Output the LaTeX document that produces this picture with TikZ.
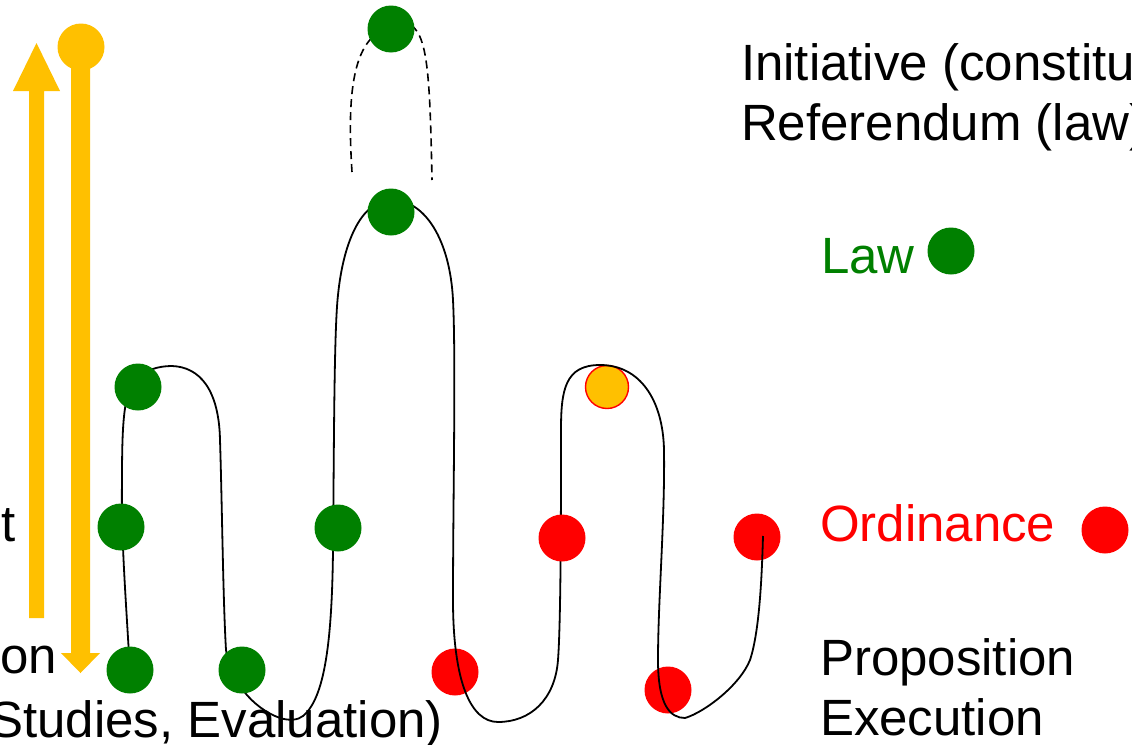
\documentclass[tikz,border=0pt]{standalone}
\usepackage{fontspec}
\setmainfont{Liberation Sans}
\definecolor{lawgreen}{HTML}{008000}
\definecolor{ordred}{HTML}{FF0000}
\definecolor{amber}{HTML}{FFC000}
\begin{document}
\begin{tikzpicture}[x=1pt,y=-1pt,
  dotg/.style={circle,fill=lawgreen,minimum size=47pt,inner sep=0pt},
  dotr/.style={circle,fill=ordred,minimum size=47pt,inner sep=0pt},
  dotam/.style={circle,fill=amber,draw=ordred,line width=1.4pt,minimum size=43pt,inner sep=0pt},
  dotcap/.style={circle,fill=amber,minimum size=47pt,inner sep=0pt},
  lbl/.style={inner sep=0pt,outer sep=0pt,font=\fontsize{51}{61}\selectfont},
  wave/.style={line width=1.8pt,black},
  dashwave/.style={line width=1.6pt,black,dash pattern=on 8pt off 5pt}]
\useasboundingbox (0,0) rectangle (1132,744);
\clip (0,0) rectangle (1132,744);
\fill[white] (0,0) rectangle (1132,744);

% orange arrows
\fill[amber] (29,618) -- (29,91) -- (13,91) -- (36.5,43) -- (60,91) -- (44,91) -- (44,618) -- cycle;
\fill[amber] (71,60) -- (71,653) -- (61,653) -- (80.5,673) -- (100,653) -- (90,653) -- (90,60) -- cycle;
\node[dotcap] (cap) at (81,47) {};

% dots lying under the line
\node[dotr] (r3) at (455,672) {};
\node[dotr] (r4) at (668,690) {};
\node[dotr] (r2) at (757,537) {};
\node[dotam] (am) at (607,387) {};

% the process line
\draw[wave] (130,672) .. controls (126,600) and (121,540) .. (122,480)
  .. controls (122,420) and (124,395) .. (135,380)
  .. controls (145,370) and (158,366) .. (172,366)
  .. controls (200,367) and (219,390) .. (220,440)
  .. controls (222,500) and (223,600) .. (226,650)
  .. controls (230,680) and (252,708) .. (280,718)
  .. controls (290,721) and (298,720) .. (303,716)
  .. controls (325,698) and (332,640) .. (333,550)
  .. controls (334,450) and (334,330) .. (338,295)
  .. controls (343,245) and (360,200) .. (392,200)
  .. controls (425,200) and (450,240) .. (453,300)
  .. controls (456,360) and (453,500) .. (453,600)
  .. controls (453,680) and (470,722) .. (498,722)
  .. controls (530,722) and (555,700) .. (558,660)
  .. controls (561,620) and (561,500) .. (561,430)
  .. controls (561,390) and (565,365) .. (600,365)
  .. controls (640,365) and (663,400) .. (664,450)
  .. controls (665,520) and (658,600) .. (658,660)
  .. controls (658,705) and (670,718) .. (685,718)
  .. controls (705,712) and (740,685) .. (750,660)
  .. controls (760,630) and (762,570) .. (763,536);

% dashed arc
\draw[dashwave] (352,172) .. controls (348,110) and (350,55) .. (375,35)
  .. controls (385,28) and (400,20) .. (412,26)
  .. controls (428,38) and (430,80) .. (432,180);

% dots lying over the line
\node[dotg] (g0) at (391,29) {};
\node[dotg] (g1) at (391,212) {};
\node[dotg] (g2) at (138,387) {};
\node[dotg] (g3) at (121,527) {};
\node[dotg] (g4) at (338,528) {};
\node[dotg] (g5) at (130,670) {};
\node[dotg] (g6) at (242,670) {};
\node[dotr] (r1) at (562,538) {};

% legend
\node[lbl,anchor=base west] (init) at (741,80) {Initiative (constitution)};
\node[lbl,anchor=base west] (refe) at (741,140) {Referendum (law)};
\node[lbl,anchor=base west,text=lawgreen] (law) at (821,273) {Law};
\node[dotg] (lawdot) at (951,251) {};
\node[lbl,anchor=base west,text=ordred] (ord) at (820,541) {Ordinance};
\node[dotr] (orddot) at (1105,530) {};
\node[lbl,anchor=base west] (prop) at (820,675) {Proposition};
\node[lbl,anchor=base west] (exec) at (820,735) {Execution};

% left labels (cut by the edge)
\node[lbl,anchor=base east] (lt) at (16,541) {t};
\node[lbl,anchor=base east] (lon) at (57,673) {on};
\node[lbl,anchor=base east] (lstu) at (443,737) {(Studies, Evaluation)};
\end{tikzpicture}
\end{document}
